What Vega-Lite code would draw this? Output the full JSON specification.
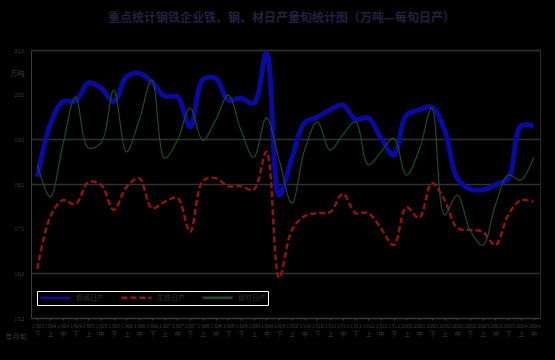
{
  "$schema": "https://vega.github.io/schema/vega-lite/v6.json",
  "width": 509,
  "height": 268,
  "autosize": {"type": "none"},
  "padding": {"left": 31, "top": 50, "right": 15, "bottom": 42},
  "background": "#000000",
  "title": {
    "text": "重点统计钢铁企业铁、钢、材日产量旬统计图（万吨—每旬日产）",
    "font": "Noto Sans CJK SC",
    "fontSize": 12,
    "fontWeight": "bold",
    "color": "#22223f",
    "offset": 18,
    "anchor": "middle",
    "dx": -4
  },
  "data": {
    "values": [
      {"p": "1303下", "粗钢日产": 183.6, "生铁日产": 163.0, "钢材日产": 186.3},
      {"p": "1304上", "粗钢日产": 195.2, "生铁日产": 174.6, "钢材日产": 179.1},
      {"p": "1304中", "粗钢日产": 200.4, "生铁日产": 178.4, "钢材日产": 190.7},
      {"p": "1304下", "粗钢日产": 200.6, "生铁日产": 177.5, "钢材日产": 201.5},
      {"p": "1305上", "粗钢日产": 204.6, "生铁日产": 182.4, "钢材日产": 190.1},
      {"p": "1305中", "粗钢日产": 203.5, "生铁日产": 181.8, "钢材日产": 191.2},
      {"p": "1305下", "粗钢日产": 200.4, "生铁日产": 176.2, "钢材日产": 203.0},
      {"p": "1306上", "粗钢日产": 206.0, "生铁日产": 181.3, "钢材日产": 189.2},
      {"p": "1306中", "粗钢日产": 206.8, "生铁日产": 183.3, "钢材日产": 196.3},
      {"p": "1306下", "粗钢日产": 204.8, "生铁日产": 176.6, "钢材日产": 205.3},
      {"p": "1307上", "粗钢日产": 201.7, "生铁日产": 178.0, "钢材日产": 187.8},
      {"p": "1307中", "粗钢日产": 201.5, "生铁日产": 178.9, "钢材日产": 191.8},
      {"p": "1307下", "粗钢日产": 194.8, "生铁日产": 171.3, "钢材日产": 199.0},
      {"p": "1308上", "粗钢日产": 205.3, "生铁日产": 182.7, "钢材日产": 191.8},
      {"p": "1308中", "粗钢日产": 205.7, "生铁日产": 183.3, "钢材日产": 196.3},
      {"p": "1308下", "粗钢日产": 200.8, "生铁日产": 181.5, "钢材日产": 201.9},
      {"p": "1308下 ", "粗钢日产": 201.2, "生铁日产": 181.5, "钢材日产": 194.1},
      {"p": "1309上", "粗钢日产": 200.1, "生铁日产": 180.7, "钢材日产": 188.0},
      {"p": "1309中", "粗钢日产": 211.3, "生铁日产": 189.2, "钢材日产": 196.8},
      {"p": "1309下", "粗钢日产": 179.5, "生铁日产": 161.0, "钢材日产": 187.4},
      {"p": "1310上", "粗钢日产": 187.8, "生铁日产": 171.7, "钢材日产": 177.7},
      {"p": "1310中", "粗钢日产": 195.7, "生铁日产": 174.8, "钢材日产": 189.6},
      {"p": "1310下", "粗钢日产": 197.0, "生铁日产": 175.5, "钢材日产": 195.9},
      {"p": "1311上", "粗钢日产": 198.6, "生铁日产": 175.7, "钢材日产": 189.6},
      {"p": "1311中", "粗钢日产": 199.7, "生铁日产": 179.8, "钢材日产": 193.0},
      {"p": "1311下", "粗钢日产": 196.5, "生铁日产": 175.5, "钢材日产": 195.9},
      {"p": "1312上", "粗钢日产": 196.8, "生铁日产": 175.5, "钢材日产": 186.3},
      {"p": "1312中", "粗钢日产": 192.3, "生铁日产": 172.1, "钢材日产": 189.2},
      {"p": "1312下", "粗钢日产": 188.5, "生铁日产": 168.3, "钢材日产": 192.3},
      {"p": "2001上", "粗钢日产": 197.4, "生铁日产": 176.8, "钢材日产": 184.0},
      {"p": "2001中", "粗钢日产": 198.6, "生铁日产": 174.4, "钢材日产": 189.6},
      {"p": "2001下", "粗钢日产": 199.2, "生铁日产": 182.2, "钢材日产": 199.0},
      {"p": "2002上", "粗钢日产": 194.1, "生铁日产": 178.4, "钢材日产": 175.1},
      {"p": "2002中", "粗钢日产": 183.3, "生铁日产": 172.1, "钢材日产": 179.5},
      {"p": "2002下", "粗钢日产": 180.9, "生铁日产": 171.7, "钢材日产": 171.7},
      {"p": "2003上", "粗钢日产": 180.7, "生铁日产": 171.3, "钢材日产": 168.3},
      {"p": "2003中", "粗钢日产": 181.8, "生铁日产": 168.3, "钢材日产": 177.3},
      {"p": "2003下", "粗钢日产": 183.3, "生铁日产": 175.1, "钢材日产": 184.0},
      {"p": "2004上", "粗钢日产": 195.0, "生铁日产": 178.4, "钢材日产": 182.9},
      {"p": "2004中", "粗钢日产": 195.0, "生铁日产": 178.0, "钢材日产": 188.0}
    ]
  },
  "transform": [{"fold": ["粗钢日产", "生铁日产", "钢材日产"], "as": ["series", "value"]}],
  "encoding": {
    "x": {
      "field": "p",
      "type": "ordinal",
      "sort": null,
      "scale": {"type": "point", "padding": 0.5},
      "axis": {
        "title": "年月旬",
        "titleX": -26,
        "titleY": 18,
        "titleAlign": "left",
        "titleBaseline": "middle",
        "titleAngle": 0,
        "titleFont": "Noto Sans CJK SC",
        "titleFontSize": 7,
        "titleFontWeight": "normal",
        "titleColor": "#3a3a3a",
        "labelAngle": 0,
        "labelFont": "Liberation Serif, Noto Sans CJK SC",
        "labelFontSize": 6,
        "labelColor": "#3c3c3c",
        "labelExpr": "[slice(datum.value, 0, 4), slice(datum.value, 4, 5)]",
        "labelLineHeight": 8,
        "labelPadding": 2,
        "labelOverlap": false,
        "domainColor": "#3a3a3a",
        "tickColor": "#3a3a3a",
        "tickSize": 2,
        "grid": false
      }
    },
    "y": {
      "field": "value",
      "type": "quantitative",
      "scale": {"domain": [152, 212], "nice": false, "zero": false},
      "axis": {
        "title": "万吨",
        "titleAngle": 0,
        "titleX": -21,
        "titleY": 23,
        "titleAlign": "left",
        "titleBaseline": "middle",
        "titleFont": "Noto Sans CJK SC",
        "titleFontSize": 7,
        "titleFontWeight": "normal",
        "titleColor": "#3a3a3a",
        "values": [152, 162, 172, 182, 192, 202, 212],
        "labelFont": "Liberation Serif",
        "labelFontSize": 7,
        "labelColor": "#3c3c3c",
        "labelPadding": 7,
        "ticks": false,
        "grid": true,
        "gridColor": "#303030",
        "gridWidth": 1.5,
        "gridOpacity": {"condition": {"test": "datum.value === 202 || datum.value === 172", "value": 0}, "value": 1},
        "domainColor": "#3a3a3a"
      }
    },
    "color": {
      "field": "series",
      "type": "nominal",
      "scale": {"domain": ["粗钢日产", "生铁日产", "钢材日产"], "range": ["#0a0a9e", "#8c1414", "#1f4a28"]},
      "legend": {
        "orient": "none", "legendX": 6, "legendY": 241, "direction": "horizontal", "title": null
      }
    },
    "strokeDash": {
      "field": "series",
      "type": "nominal",
      "scale": {"domain": ["粗钢日产", "生铁日产", "钢材日产"], "range": [[1, 0], [6, 3], [1, 0]]},
      "legend": {
        "orient": "none", "legendX": 6, "legendY": 241, "direction": "horizontal", "title": null
      }
    }
  },
  "layer": [
    {"transform": [{"filter": "datum.series === '粗钢日产'"}], "mark": {"type": "line", "interpolate": "catmull-rom", "strokeWidth": 5}},
    {"transform": [{"filter": "datum.series === '生铁日产'"}], "mark": {"type": "line", "interpolate": "catmull-rom", "strokeWidth": 2.5}},
    {"transform": [{"filter": "datum.series === '钢材日产'"}], "mark": {"type": "line", "interpolate": "catmull-rom", "strokeWidth": 1.2}}
  ],
  "config": {
    "view": {"stroke": "#2a2a2a"},
    "legend": {
      "symbolType": "M-5,0H5",
      "symbolSize": 36,
      "symbolStrokeWidth": 2.5,
      "symbolOffset": 12,
      "labelFont": "Noto Sans CJK SC",
      "labelFontSize": 7,
      "labelColor": "#2e2e2e",
      "columnPadding": 12,
      "padding": 2,
      "strokeColor": "#ffffff",
      "fillColor": "#000000",
      "labelOffset": 16,
      "labelLimit": 60,
      "encode": {
        "legend": {"update": {"strokeDash": {"value": [1.5, 1.5]}, "strokeWidth": {"value": 2}}}
      }
    }
  }
}
